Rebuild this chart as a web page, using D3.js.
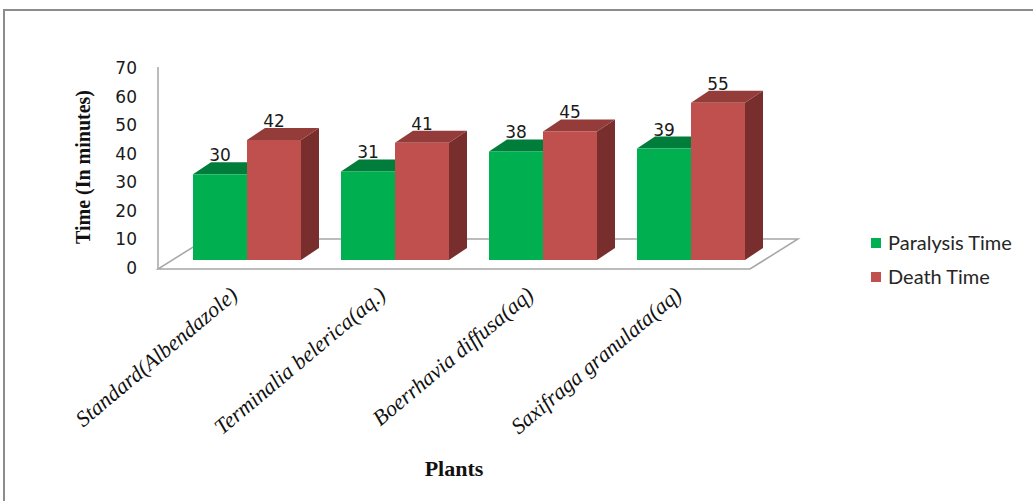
<!DOCTYPE html>
<html>
<head>
<meta charset="utf-8">
<script src="https://cdn.jsdelivr.net/npm/d3@7"></script>
<style>
  html, body { margin: 0; padding: 0; background: #fff; }
  svg { display: block; }
</style>
</head>
<body>
<svg id="chart" width="1033" height="501"></svg>
<script>
// Anthelmintic activity: paralysis and death times per plant extract
const categories = [
  "Standard(Albendazole)",
  "Terminalia belerica(aq.)",
  "Boerrhavia diffusa(aq)",
  "Saxifraga granulata(aq)"
];
const seriesNames = ["Paralysis Time", "Death Time"];
const paralysisTime = [30, 31, 38, 39];
const deathTime = [42, 41, 45, 55];
const yTicks = [0, 10, 20, 30, 40, 50, 60, 70];

const seriesValues = [paralysisTime, deathTime];
const faceColors = [
  { front: "#00B050", top: "#007D3A", side: "#006B31" },
  { front: "#C0504D", top: "#933C3A", side: "#772E2C" }
];

const svg = d3.select("#chart");

// Outer frame
svg.append("path")
  .attr("d", "M4,501 L4,10 L1033,10")
  .attr("fill", "none")
  .attr("stroke", "#8c8c8c")
  .attr("stroke-width", 2);

// Scales
const x0 = d3.scaleBand()
  .domain(categories)
  .range([173, 765])
  .paddingInner(40 / 148)
  .paddingOuter(20 / 148);
const x1 = d3.scaleBand()
  .domain(seriesNames)
  .range([0, x0.bandwidth()]);
const yAxisScale = d3.scaleLinear().domain([0, 70]).range([268, 68]);
// bars stand slightly back from the front edge of the floor
const yBar = d3.scaleLinear().domain([0, 70]).range([260, 60]);

const depth = { dx: 18, dy: -12 };
const floorDepth = { dx: 48, dy: -30 };

// Floor
const fx0 = 158, fx1 = 750, fy = 269;
svg.append("path")
  .attr("d", `M${fx0},${fy} L${fx1},${fy} L${fx1 + floorDepth.dx},${fy + floorDepth.dy} L${fx0 + floorDepth.dx},${fy + floorDepth.dy} Z`)
  .attr("fill", "#fff")
  .attr("stroke", "#a6a6a6")
  .attr("stroke-width", 1.5);

// Vertical axis line
svg.append("line")
  .attr("x1", fx0).attr("x2", fx0)
  .attr("y1", yAxisScale(70) - 1).attr("y2", fy)
  .attr("stroke", "#a6a6a6")
  .attr("stroke-width", 1.5);

// Y tick labels
const yAxis = d3.axisLeft(yAxisScale).tickValues(yTicks).tickSize(0).tickPadding(0);
const yAxisG = svg.append("g").attr("transform", "translate(137,0)").call(yAxis);
yAxisG.select(".domain").remove();
yAxisG.selectAll("text")
  .attr("font-family", "DejaVu Sans, Verdana, sans-serif")
  .attr("font-size", 17)
  .attr("fill", "#1a1a1a");

// Bars
const groups = svg.append("g").selectAll("g")
  .data(categories)
  .join("g")
  .attr("transform", d => `translate(${x0(d)},0)`);

groups.each(function (cat, ci) {
  const g = d3.select(this);
  seriesNames.forEach((s, si) => {
    const v = seriesValues[si][ci];
    const xl = x1(s), xr = xl + x1.bandwidth();
    const yt = yBar(v), yb = yBar(0);
    const c = faceColors[si];
    const { dx, dy } = depth;
    // side face
    g.append("path")
      .attr("d", `M${xr},${yb} L${xr},${yt} L${xr + dx},${yt + dy} L${xr + dx},${yb + dy} Z`)
      .attr("fill", c.side);
    // top face
    g.append("path")
      .attr("d", `M${xl},${yt} L${xr},${yt} L${xr + dx},${yt + dy} L${xl + dx},${yt + dy} Z`)
      .attr("fill", c.top);
    // front face
    g.append("rect")
      .attr("x", xl).attr("y", yt)
      .attr("width", x1.bandwidth()).attr("height", yb - yt)
      .attr("fill", c.front);
  });
  // value labels
  seriesNames.forEach((s, si) => {
    const v = seriesValues[si][ci];
    g.append("text")
      .attr("x", x1(s) + x1.bandwidth() / 2)
      .attr("y", yBar(v) + depth.dy - 1)
      .attr("text-anchor", "middle")
      .attr("font-family", "DejaVu Sans, Verdana, sans-serif")
      .attr("font-size", 17)
      .attr("fill", "#1a1a1a")
      .text(v);
  });
});

// Category labels
svg.append("g").selectAll("text")
  .data(categories)
  .join("text")
  .attr("transform", d => `translate(${x0(d) + x0.bandwidth() / 2 - 8},${297}) rotate(-40)`)
  .attr("text-anchor", "end")
  .attr("font-family", "Liberation Serif, Times New Roman, serif")
  .attr("font-style", "italic")
  .attr("font-size", 22)
  .attr("fill", "#111")
  .text(d => d);

// Axis titles
svg.append("text")
  .attr("transform", "translate(90,167) rotate(-90)")
  .attr("text-anchor", "middle")
  .attr("font-family", "Liberation Serif, Times New Roman, serif")
  .attr("font-weight", "bold")
  .attr("font-size", 20)
  .attr("fill", "#111")
  .text("Time (In minutes)");

svg.append("text")
  .attr("x", 454).attr("y", 476)
  .attr("text-anchor", "middle")
  .attr("font-family", "Liberation Serif, Times New Roman, serif")
  .attr("font-weight", "bold")
  .attr("font-size", 22)
  .attr("fill", "#111")
  .text("Plants");

// Legend
const legend = svg.append("g").selectAll("g")
  .data(seriesNames)
  .join("g")
  .attr("transform", (d, i) => `translate(871,${238 + i * 34})`);
legend.append("rect")
  .attr("width", 10).attr("height", 10)
  .attr("fill", (d, i) => faceColors[i].front);
legend.append("text")
  .attr("x", 17).attr("y", 5)
  .attr("dy", "0.36em")
  .attr("font-family", "Lato, Carlito, sans-serif")
  .attr("font-size", 20)
  .attr("fill", "#262626")
  .text(d => d);
</script>
</body>
</html>
